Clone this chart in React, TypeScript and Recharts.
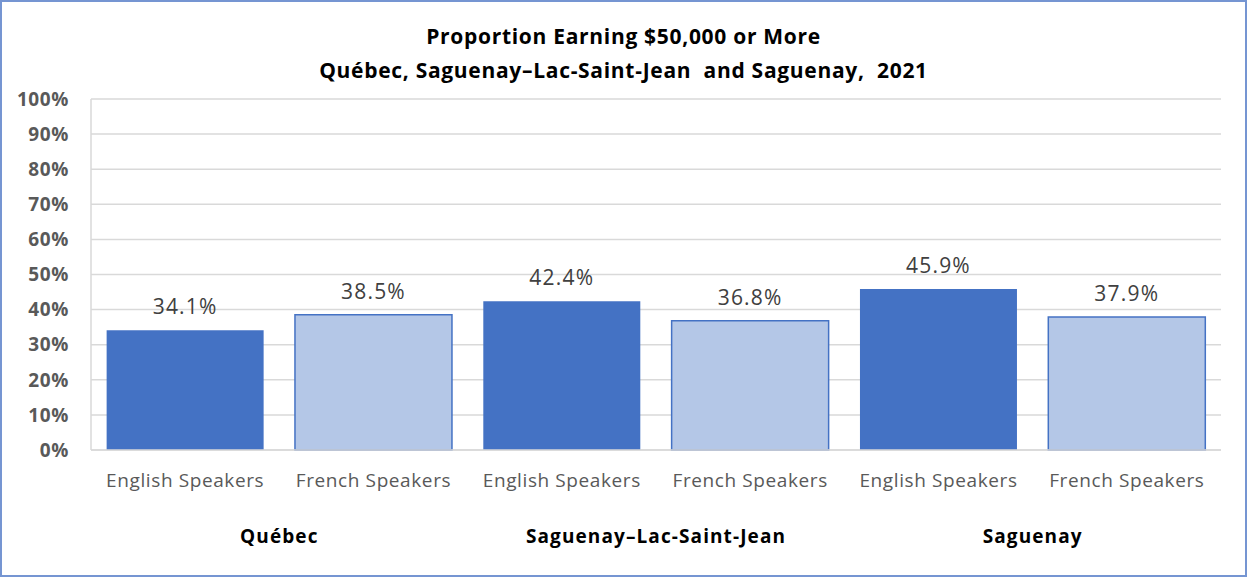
import React from 'react';
import { BarChart, Bar, XAxis, YAxis, CartesianGrid, LabelList, Cell } from 'recharts';

const speakers = ['English Speakers', 'French Speakers', 'English Speakers', 'French Speakers', 'English Speakers', 'French Speakers'];
const regions = ['Québec', 'Québec', 'Saguenay–Lac-Saint-Jean', 'Saguenay–Lac-Saint-Jean', 'Saguenay', 'Saguenay'];
const values = [34.1, 38.5, 42.4, 36.8, 45.9, 37.9];
const yTicks = [0, 10, 20, 30, 40, 50, 60, 70, 80, 90, 100];

const data = speakers.map((s, i) => ({ key: `c${i}`, speaker: s, region: regions[i], value: values[i] }));

const W = 1247;
const H = 577;
const margin = { top: 99, right: 26, bottom: 27, left: 0 };
const yAxisWidth = 91;
const plotWidth = W - margin.left - margin.right - yAxisWidth;
const catWidth = plotWidth / data.length;

const FONT = 'Open Sans, Liberation Sans, sans-serif';

const DARK = '#4472C4';
const LIGHT = '#B4C7E7';

const XTick = (props: any) => {
  const { x, y, index } = props;
  const d = data[index];
  if (!d) return null;
  const showGroup = index % 2 === 0;
  return (
    <g>
      <text x={x} y={y + 35} textAnchor="middle" fontSize={19} fill="#595959" fontFamily={FONT} style={{ letterSpacing: '0.6px' }}>
        {d.speaker}
      </text>
      {showGroup && (
        <text x={x + catWidth / 2} y={y + 91} textAnchor="middle" fontSize={19} fontWeight="bold" fill="#000" fontFamily={FONT} style={{ letterSpacing: '1.1px' }}>
          {d.region}
        </text>
      )}
    </g>
  );
};

const titleStyle: React.CSSProperties = {
  position: 'absolute',
  left: 0,
  width: W,
  textAlign: 'center',
  fontSize: 21,
  fontWeight: 'bold',
  color: '#000',
  lineHeight: '28px',
  whiteSpace: 'pre',
  letterSpacing: '0.7px',
};

export default function App() {
  return (
    <div style={{ position: 'absolute', left: 0, top: 0, width: W, height: H, background: '#fff', fontFamily: FONT }}>
      <div style={{ position: 'absolute', left: 0, top: 0, width: W - 4, height: H - 4, border: '2px solid #7595D2' }} />
      <div style={{ ...titleStyle, top: 22 }}>{'Proportion Earning $50,000 or More'}</div>
      <div style={{ ...titleStyle, top: 56 }}>{'Québec, Saguenay–Lac-Saint-Jean  and Saguenay,  2021'}</div>
      <div style={{ position: 'absolute', left: 0, top: 0 }}>
        <BarChart width={W} height={H} data={data} margin={margin} barCategoryGap="8.3%">
          <CartesianGrid vertical={false} stroke="#D9D9D9" strokeWidth={1.5} />
          <XAxis
            dataKey="key"
            height={100}
            tickLine={false}
            axisLine={{ stroke: '#D9D9D9', strokeWidth: 1.5 }}
            tick={<XTick />}
            interval={0}
            tickSize={0}
          />
          <YAxis
            domain={[0, 100]}
            ticks={yTicks}
            width={yAxisWidth}
            tickLine={false}
            tickSize={0}
            tickMargin={22}
            axisLine={{ stroke: '#D9D9D9', strokeWidth: 1.5 }}
            tickFormatter={(v: number) => `${v}%`}
            tick={{ fontSize: 19, fontWeight: 'bold', fill: '#595959', fontFamily: FONT, style: { letterSpacing: '0.6px' } }}
          />
          <YAxis
            yAxisId="right"
            orientation="right"
            width={0}
            domain={[0, 100]}
            tick={false}
            tickLine={false}
            axisLine={{ stroke: '#D9D9D9', strokeWidth: 1.5 }}
          />
          <Bar dataKey="value" isAnimationActive={false}>
            {data.map((d, i) => (
              <Cell
                key={d.key}
                fill={i % 2 === 0 ? DARK : LIGHT}
                stroke={i % 2 === 0 ? 'none' : DARK}
                strokeWidth={1.5}
              />
            ))}
            <LabelList
              dataKey="value"
              position="top"
              offset={16}
              formatter={(v: any) => `${Number(v).toFixed(1)}%`}
              style={{ fontSize: 21, fill: '#404040', fontFamily: FONT, letterSpacing: '1.2px' }}
            />
          </Bar>
        </BarChart>
      </div>
    </div>
  );
}
